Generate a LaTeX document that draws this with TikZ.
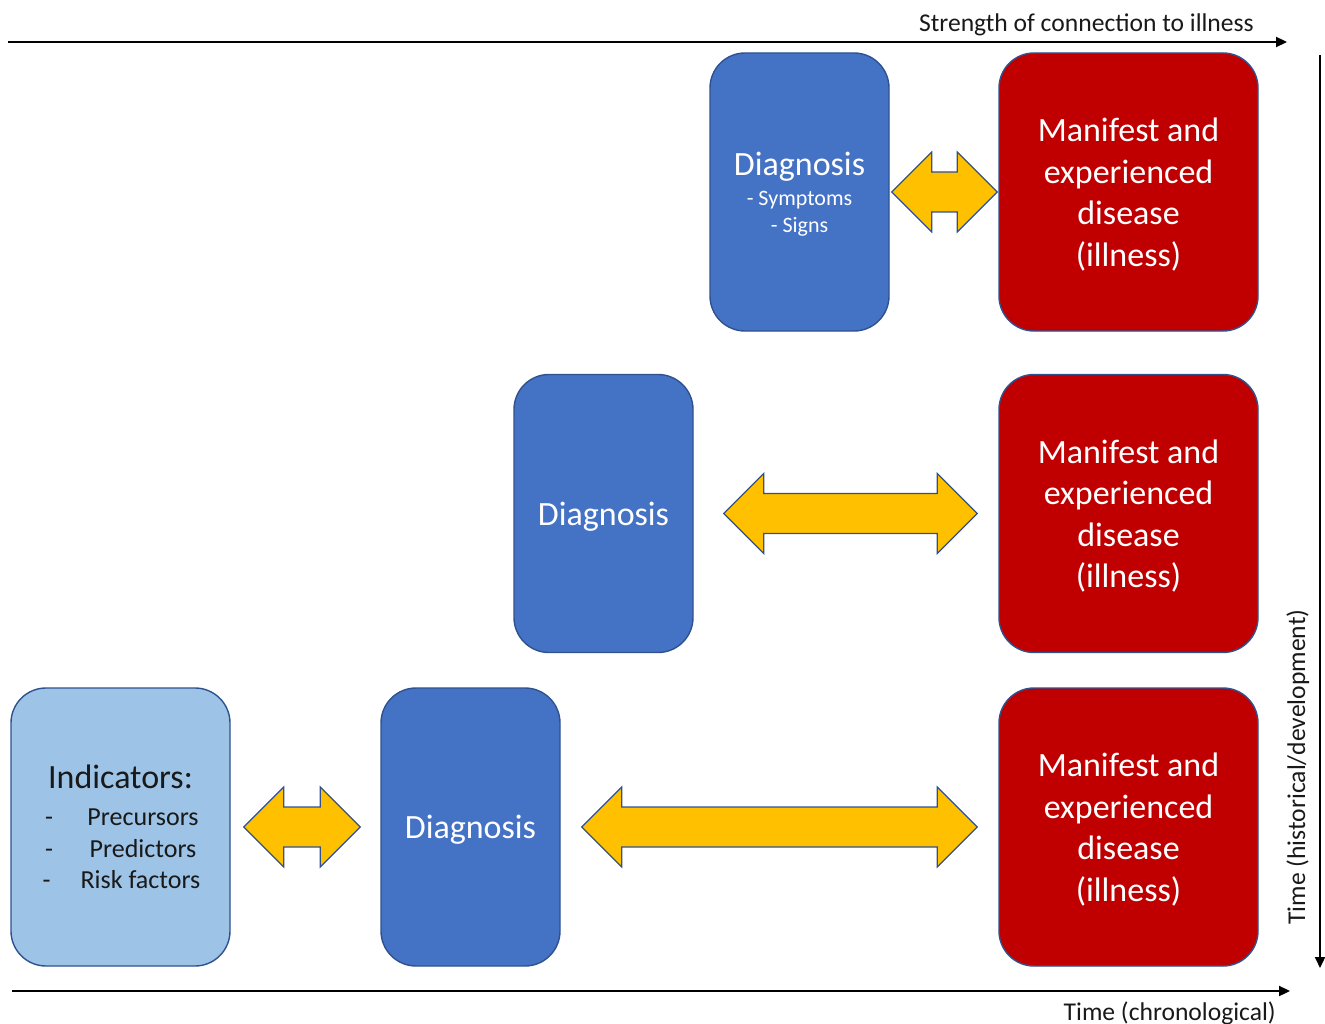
\documentclass[tikz,border=0pt]{standalone}
\usepackage{fontspec}
\setmainfont{Carlito}
\usepackage{tikz}
\usetikzlibrary{arrows.meta,calc}
\definecolor{DiagBlue}{HTML}{4472C4}
\definecolor{IllRed}{HTML}{C00000}
\definecolor{IndBlue}{HTML}{9DC3E6}
\definecolor{LinkGold}{HTML}{FFC000}
\definecolor{EdgeBlue}{HTML}{2F528F}

% double arrow between two boxes: from, to, gap at start, gap at end
\newcommand{\bothways}[4]{%
  \draw[twoway] let \p1=($(#1.east)+(#3,0)$), \p2=($(#2.west)-(#4,0)$) in
    (\x1,\y1) -- ++(40pt,40pt) -- ++(0,-20pt) -- (\x2-40pt,\y1+20pt) -- ++(0,20pt)
    -- (\x2,\y1) -- ++(-40pt,-40pt) -- ++(0,20pt) -- (\x1+40pt,\y1-20pt) -- ++(0,-20pt) -- cycle;}

\begin{document}
\begin{tikzpicture}[x=1pt,y=-1pt,
  cardbox/.style={draw=EdgeBlue,line width=1.4pt,rounded corners=35pt,minimum height=278pt,align=center,inner sep=0pt,text depth=0pt},
  diagbox/.style={cardbox,fill=DiagBlue,text=white,minimum width=179pt,font=\fontsize{34}{41.5}\selectfont},
  illbox/.style={cardbox,fill=IllRed,text=white,minimum width=259pt,font=\fontsize{34}{41.5}\selectfont},
  indbox/.style={cardbox,fill=IndBlue,text=black!90,minimum width=219pt,font=\fontsize{26}{31.7}\selectfont},
  twoway/.style={draw=EdgeBlue,fill=LinkGold,line width=1.2pt,line join=miter},
  axis/.style={line width=2.2pt,-{Triangle[length=11pt,width=10pt]}},
  axislabel/.style={font=\fontsize{25.6}{30}\selectfont,inner sep=0pt,text=black!90}]
\useasboundingbox (0,0) rectangle (1325,1024);

% illness boxes
\foreach \y/\n in {192/1,513.5/2,827/3}
  \node[illbox] (ill\n) at (1128.5,\y) {Manifest and\\experienced\\disease\\(illness)};

% diagnosis boxes
\node[diagbox,font=\fontsize{22}{27}\selectfont] (diag1) at (799.5,192)
  {{\fontsize{34}{41}\selectfont Diagnosis}\\[3pt]- Symptoms\\- Signs};
\node[diagbox] (diag2) at (603.5,513.5) {Diagnosis};
\node[diagbox] (diag3) at (470.5,827) {Diagnosis};

% indicators
\node[indbox] (ind) at (120.5,827)
  {{\fontsize{34}{41}\selectfont Indicators:}\\[5pt]
   \makebox[45pt][l]{-}\makebox[106pt]{Precursors}\\
   \makebox[45pt][l]{-}\makebox[106pt]{Predictors}\\
   \makebox[40pt][l]{-}\makebox[116pt]{Risk factors}};

% links
\bothways{diag1}{ill1}{2}{1}
\bothways{diag2}{ill2}{30}{21}
\bothways{ind}{diag3}{13}{20}
\bothways{diag3}{ill3}{21}{21}

% axes
\coordinate (sx0) at (8,42);
\coordinate (sx1) at (1287,42);
\draw[axis] (sx0) -- (sx1);
\node[axislabel,anchor=base east] (strength) at (1254,32) {Strength of connection to illness};

\coordinate (ty0) at (1320,55);
\coordinate (ty1) at (1320,968);
\draw[axis] (ty0) -- (ty1);
\node[axislabel,anchor=base,rotate=90] (timedev) at (1305,767) {Time (historical/development)};

\coordinate (tx0) at (12,991);
\coordinate (tx1) at (1290,991);
\draw[axis] (tx0) -- (tx1);
\node[axislabel,anchor=base east] (timechr) at (1276,1020) {Time (chronological)};
\end{tikzpicture}
\end{document}
